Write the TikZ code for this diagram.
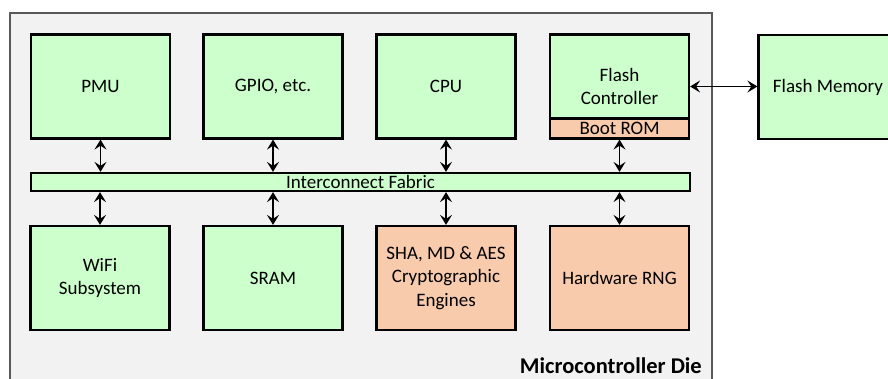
\documentclass[tikz,border=0pt]{standalone}
\usepackage{fontspec}
\setmainfont{Carlito}
\usetikzlibrary{arrows.meta}
\definecolor{boxgreen}{HTML}{CCFFCC}
\definecolor{boxorange}{HTML}{F8CBAD}
\definecolor{diefill}{HTML}{F2F2F2}
\definecolor{dieline}{HTML}{595959}
\begin{document}
\begin{tikzpicture}[x=1pt,y=-1pt,
  blk/.style={draw=black, line width=2.2pt, fill=boxgreen, minimum width=139pt, minimum height=104pt, inner sep=0pt, align=center, font=\fontsize{19}{23.5}\selectfont},
  orng/.style={blk, fill=boxorange},
  biarrow/.style={line width=1.5pt, {Stealth[length=10pt,width=12pt,inset=4pt]}-{Stealth[length=10pt,width=12pt,inset=4pt]}}
]
\useasboundingbox (0,0) rectangle (888,379);
\begin{scope}
\clip (0,0) rectangle (888,379);
\draw[draw=dieline, line width=2pt, fill=diefill] (10,13) rectangle (712,400);
\node[blk] (fmem) at (828,87) {Flash Memory};
\end{scope}
% top row
\node[blk] (pmu) at (100.5,86.5) {PMU};
\node[blk] (gpio) at (273,86.5) {GPIO, etc.};
\node[blk] (cpu) at (446,86.5) {CPU};
\node[blk] (fctl) at (619.5,86.5) {Flash\\Controller};
\node[orng, minimum height=20pt, font=\fontsize{19}{22}\selectfont] (brom) at (619.5,128.5) {Boot ROM};
% fabric
\node[draw=black, line width=2.2pt, fill=boxgreen, minimum width=659pt, minimum height=18pt, inner sep=0pt] (fabric) at (360.5,182) {};
\node[font=\fontsize{19}{22}\selectfont, inner sep=0pt] (fablabel) at (360.5,182) {Interconnect Fabric};
% bottom row
\node[blk] (wifi) at (100,278) {WiFi\\Subsystem};
\node[blk] (sram) at (273,278) {SRAM};
\node[orng] (crypto) at (446,278) {SHA, MD \& AES\\Cryptographic\\Engines};
\node[orng] (rng) at (619.5,278) {Hardware RNG};
% arrows
\draw[biarrow] (pmu.south) -- (pmu.south |- fabric.north);
\draw[biarrow] (gpio.south) -- (gpio.south |- fabric.north);
\draw[biarrow] (cpu.south) -- (cpu.south |- fabric.north);
\draw[biarrow] (brom.south) -- (brom.south |- fabric.north);
\draw[biarrow] (fabric.south -| wifi.north) -- (wifi.north);
\draw[biarrow] (fabric.south -| sram.north) -- (sram.north);
\draw[biarrow] (fabric.south -| crypto.north) -- (crypto.north);
\draw[biarrow] (fabric.south -| rng.north) -- (rng.north);
\draw[biarrow] (fctl.east) -- (fctl.east -| fmem.west);
% die label
\node[anchor=east, font=\bfseries\fontsize{22.5}{26}\selectfont, inner sep=0pt] (dielabel) at (702,366) {Microcontroller Die};
\end{tikzpicture}
\end{document}
